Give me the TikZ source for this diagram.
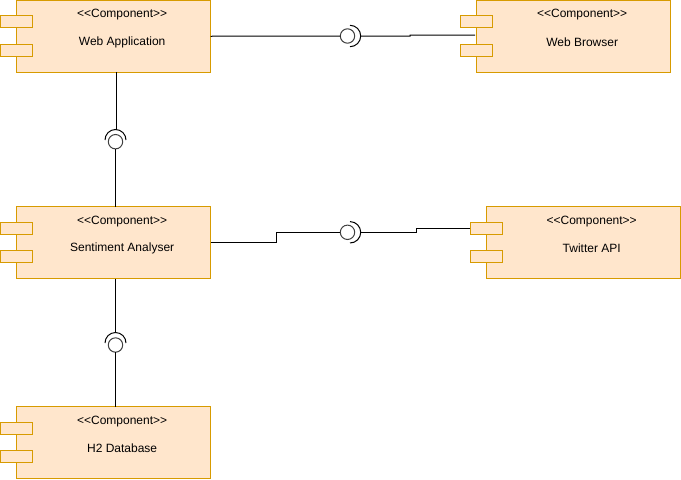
\documentclass[tikz,border=0pt]{standalone}
\usepackage{fontspec}
\setmainfont{Liberation Sans}
\definecolor{compfill}{HTML}{FFE6CC}
\definecolor{compline}{HTML}{D79B00}
\begin{document}
\begin{tikzpicture}[x=0.75pt,y=-0.75pt,
        line width=0.75pt,
        font=\fontsize{9pt}{11pt}\selectfont,
        comp/.style={rectangle, draw=compline, fill=compfill,
                        inner sep=0pt, outer sep=0pt,
                        minimum width=145.5pt, minimum height=54pt},
        port/.style={rectangle, draw=compline, fill=compfill,
                        inner sep=0pt, outer sep=0pt,
                        minimum width=24pt, minimum height=9pt},
        lolly/.style={circle, draw=black!75, fill=white,
                        inner sep=0pt, outer sep=0pt, minimum width=10.8pt},
        txt/.style={inner sep=0pt, text=black}]
    \useasboundingbox (0,0) rectangle (681,479);
    % components
    \foreach \n/\x/\y/\t in {webapp/113.5/36.25/Web Application,
                browser/573.5/36.25/Web Browser,
                analyser/113.5/242.5/Sentiment Analyser,
                twitter/583/242.5/Twitter API,
                database/113.5/442.5/H2 Database}{
        \node[comp] (\n) at (\x,\y) {};
        \node[port] (\n1) at ([yshift=10.69pt]\n.west) {};
        \node[port] (\n2) at ([yshift=-10.69pt]\n.west) {};
        \node[txt] (\n s) at ([xshift=6.5pt,yshift=15.9pt]\n) {{<}{<}Component{>}{>}};
        \node[txt] (\n t) at ([xshift=6.5pt,yshift=-4.4pt]\n) {\t};
    }
    % provided interfaces
    \node[lolly] (ib) at (347.5,36) {};
    \node[lolly] (ia) at (115.5,141.7) {};
    \node[lolly] (it) at (347.5,232.3) {};
    \node[lolly] (id) at (115.5,345) {};
    % required interfaces
    \draw (350,25.3) arc[start angle=-90,end angle=90,radius=10.7]
        coordinate[pos=0.5] (sb);
    \draw (350,221.6) arc[start angle=-90,end angle=90,radius=10.7]
        coordinate[pos=0.5] (st);
    \draw (105,140) arc[start angle=180,end angle=360,radius=10.5]
        coordinate[pos=0.5] (sa);
    \draw (105,343) arc[start angle=180,end angle=360,radius=10.5]
        coordinate[pos=0.5] (sd);
    \coordinate (bin) at (475,35);
    % connectors
    \draw (webapp.east) -- (ib.west);
    \draw (sb) -- (410,36) |- (bin);
    \draw (webapp.south) ++(2.5,0) coordinate (wo) -- (wo |- sa);
    \draw (ia.south) -- (ia.south |- analyser.north);
    \draw (analyser.east) -| (276,232.3) -- (it.west);
    \draw (st) -- (416,232.3) |- (twitter1.west);
    \draw (analyser.south) ++(2,0) coordinate (ao) -- (ao |- sd);
    \draw (id.south) -- (id.south |- database.north);
\end{tikzpicture}
\end{document}
